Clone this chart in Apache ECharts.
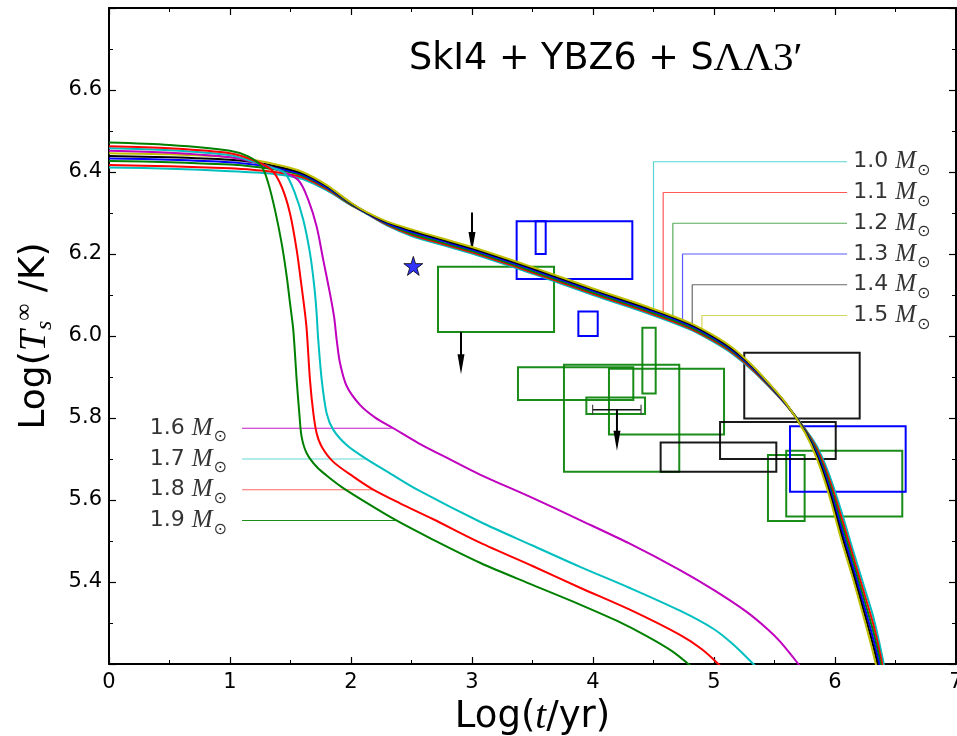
<!DOCTYPE html>
<html>
<head>
<meta charset="utf-8">
<script src="https://cdn.jsdelivr.net/npm/echarts@6/dist/echarts.min.js"></script>
<style>html,body{margin:0;padding:0;background:#fff;overflow:hidden}#c{position:absolute;left:0;top:0;width:957px;height:736px}</style>
</head>
<body>
<div id="c"></div>
<script>
// ---------- data ----------
const xTicks = [0, 1, 2, 3, 4, 5, 6, 7];
const yTicks = [5.4, 5.6, 5.8, 6.0, 6.2, 6.4, 6.6];

// common x grid for the 1.0 - 1.5 Msun curves (Log t/yr)
const bundleX = [0, 0.5, 1.0, 1.2, 1.4, 1.6, 1.8, 2.0, 2.13, 2.3, 2.5, 2.8, 3.0, 3.5, 4.0, 4.5, 4.8, 5.0, 5.15, 5.3, 5.45, 5.6, 5.75, 5.85, 5.95, 6.05, 6.15, 6.25, 6.32, 6.38, 6.45];
const m10 = [6.411, 6.408, 6.402, 6.399, 6.394, 6.383, 6.355, 6.319, 6.298, 6.269, 6.244, 6.218, 6.201, 6.152, 6.100, 6.050, 6.016, 5.985, 5.957, 5.921, 5.878, 5.830, 5.775, 5.731, 5.663, 5.575, 5.476, 5.380, 5.311, 5.233, 5.13];
const m11 = [6.417, 6.414, 6.409, 6.405, 6.399, 6.387, 6.358, 6.320, 6.299, 6.271, 6.247, 6.221, 6.204, 6.155, 6.103, 6.053, 6.019, 5.988, 5.960, 5.923, 5.879, 5.831, 5.773, 5.725, 5.653, 5.561, 5.462, 5.364, 5.293, 5.215, 5.11];
const m12 = [6.427, 6.424, 6.418, 6.413, 6.405, 6.391, 6.361, 6.321, 6.300, 6.273, 6.250, 6.224, 6.207, 6.158, 6.106, 6.056, 6.022, 5.991, 5.963, 5.926, 5.881, 5.832, 5.771, 5.719, 5.643, 5.547, 5.448, 5.348, 5.275, 5.197, 5.09];
const m13 = [6.433, 6.430, 6.424, 6.418, 6.409, 6.394, 6.363, 6.323, 6.300, 6.275, 6.254, 6.228, 6.211, 6.162, 6.110, 6.060, 6.026, 5.995, 5.966, 5.928, 5.883, 5.832, 5.769, 5.713, 5.633, 5.533, 5.434, 5.332, 5.257, 5.179, 5.07];
const m14 = [6.439, 6.436, 6.430, 6.424, 6.413, 6.397, 6.366, 6.324, 6.301, 6.277, 6.257, 6.231, 6.214, 6.165, 6.113, 6.063, 6.029, 5.998, 5.969, 5.931, 5.885, 5.833, 5.767, 5.707, 5.623, 5.519, 5.420, 5.316, 5.239, 5.161, 5.05];
const m15 = [6.446, 6.443, 6.436, 6.429, 6.417, 6.400, 6.368, 6.325, 6.302, 6.279, 6.260, 6.234, 6.217, 6.168, 6.116, 6.066, 6.032, 6.001, 5.972, 5.933, 5.886, 5.834, 5.765, 5.701, 5.613, 5.505, 5.406, 5.300, 5.221, 5.143, 5.03];

// heavier stars: [log t, log T]
const m16 = [[0, 6.452], [0.5, 6.447], [1.0, 6.436], [1.2, 6.424], [1.4, 6.405], [1.565, 6.38], [1.647, 6.332], [1.716, 6.267], [1.771, 6.185], [1.826, 6.104], [1.86, 6.047], [1.882, 5.99], [1.909, 5.934], [1.964, 5.878], [2.074, 5.832], [2.2, 5.801], [2.35, 5.775], [2.556, 5.739], [2.818, 5.699], [3.066, 5.662], [3.5, 5.605], [3.893, 5.551], [4.3, 5.494], [4.719, 5.429], [5.0, 5.38], [5.27, 5.327], [5.45, 5.283], [5.545, 5.255], [5.697, 5.2], [5.75, 5.178]];
const m17 = [[0, 6.458], [0.5, 6.453], [1.0, 6.441], [1.2, 6.425], [1.35, 6.41], [1.455, 6.397], [1.537, 6.348], [1.606, 6.283], [1.661, 6.202], [1.697, 6.12], [1.716, 6.055], [1.727, 6.0], [1.758, 5.893], [1.799, 5.811], [1.854, 5.771], [1.964, 5.734], [2.116, 5.702], [2.322, 5.665], [2.556, 5.624], [3.066, 5.547], [3.5, 5.489], [3.893, 5.437], [4.3, 5.386], [4.719, 5.330], [4.994, 5.286], [5.15, 5.25], [5.325, 5.2], [5.45, 5.16]];
const m18 = [[0, 6.463], [0.5, 6.458], [1.0, 6.446], [1.2, 6.428], [1.344, 6.405], [1.427, 6.364], [1.496, 6.299], [1.551, 6.21], [1.592, 6.12], [1.62, 6.055], [1.634, 6.015], [1.661, 5.893], [1.689, 5.811], [1.716, 5.763], [1.758, 5.73], [1.854, 5.693], [2.019, 5.657], [2.18, 5.626], [2.405, 5.592], [2.68, 5.553], [3.066, 5.496], [3.5, 5.439], [3.893, 5.386], [4.3, 5.333], [4.719, 5.271], [4.9, 5.236], [5.036, 5.2], [5.15, 5.166]];
const m19 = [[0, 6.472], [0.5, 6.466], [1.0, 6.452], [1.15, 6.438], [1.262, 6.413], [1.317, 6.372], [1.372, 6.307], [1.427, 6.226], [1.469, 6.145], [1.496, 6.08], [1.523, 6.015], [1.551, 5.893], [1.573, 5.811], [1.592, 5.754], [1.634, 5.714], [1.716, 5.681], [1.826, 5.653], [1.936, 5.629], [2.13, 5.593], [2.364, 5.552], [2.68, 5.503], [3.066, 5.447], [3.5, 5.393], [3.893, 5.345], [4.2, 5.305], [4.444, 5.268], [4.65, 5.232], [4.788, 5.2], [4.9, 5.17]];

// mass labels
const massNames = ['1.0', '1.1', '1.2', '1.3', '1.4', '1.5', '1.6', '1.7', '1.8', '1.9'];
// upper labels: leader from curve at x up to label height
const upLeadX = [4.5, 4.58, 4.66, 4.74, 4.82, 4.9];
const upLeadYCurve = [6.052, 6.044, 6.037, 6.030, 6.022, 6.015];
const upLabelY = [6.425, 6.35, 6.275, 6.2, 6.125, 6.05];
const upLeadEndX = 6.1;
const upLabelX = 6.15;
// lower labels: horizontal leaders
const lowLeadStartX = 1.1;
const lowLeadEndX = [2.336, 2.116, 2.18, 2.364];
const lowLabelY = [5.775, 5.70, 5.625, 5.55];
const lowLabelX = 0.975;

// observational boxes: [x0, x1, y0, y1]
const greenBoxes = [
  [2.719, 3.678, 6.01, 6.169],
  [3.38, 4.333, 5.844, 5.924],
  [3.76, 4.713, 5.669, 5.93],
  [4.132, 5.083, 5.76, 5.92],
  [4.408, 4.518, 5.86, 6.02],
  [3.945, 4.43, 5.81, 5.85],
  [5.597, 6.556, 5.56, 5.72],
  [5.446, 5.749, 5.549, 5.71]
];
const blueBoxes = [
  [3.369, 4.325, 6.139, 6.28],
  [3.526, 3.609, 6.2, 6.28],
  [3.879, 4.039, 6.0, 6.06],
  [5.628, 6.584, 5.62, 5.78]
];
const blackBoxes = [
  [5.25, 6.204, 5.799, 5.959],
  [5.05, 6.006, 5.70, 5.79],
  [4.559, 5.515, 5.669, 5.74]
];
// upper-limit arrows: [x, yStart, yEnd]
const arrows = [[3.0, 6.301, 6.205], [2.909, 6.01, 5.907], [4.198, 5.82, 5.72]];
// horizontal error bar: [x0, x1, y]
const errBars = [[3.997, 4.397, 5.82]];
// star
const starPt = [[2.515, 6.171]];

// ---------- styles ----------
const C = {c: '#00BFBF', r: '#FF0000', g: '#008000', b: '#0000FF', k: '#000000', y: '#BFBF00', m: '#BF00BF'};
const bundleColors = [C.c, C.r, C.g, C.b, C.k, C.y];
const heavyColors = [C.m, C.c, C.r, C.g];
const SANS = 'DejaVu Sans';
const SERIF = 'Liberation Serif';

const massRich = {
  n: {fontFamily: SANS, fontSize: 22, color: '#000', verticalAlign: 'middle', lineHeight: 34},
  m: {fontFamily: SERIF, fontStyle: 'italic', fontSize: 25, color: '#000', verticalAlign: 'middle', lineHeight: 34},
  s: {fontFamily: 'DejaVu Sans', fontSize: 16, color: '#000', verticalAlign: 'bottom', lineHeight: 34, padding: [0, 0, 0, 1]}
};

function zip(xs, ys) { return xs.map((x, i) => [x, ys[i]]); }

const series = [];

function boxSeries(boxes, color, opacity) {
  return {
    type: 'custom', z: 1,
    data: boxes,
    renderItem: (params, api) => {
      const p0 = api.coord([api.value(0), api.value(3)]);
      const p1 = api.coord([api.value(1), api.value(2)]);
      return {type: 'rect', shape: {x: p0[0], y: p0[1], width: p1[0] - p0[0], height: p1[1] - p0[1]},
        style: {fill: 'none', stroke: color, lineWidth: 2, opacity: opacity}};
    }
  };
}
series.push(boxSeries(greenBoxes, C.g, 0.9));
series.push(boxSeries(blueBoxes, C.b, 1));
series.push(boxSeries(blackBoxes, C.k, 0.9));

// error bar
series.push({
  type: 'custom', z: 3, data: errBars,
  renderItem: (params, api) => {
    const a = api.coord([api.value(0), api.value(2)]);
    const b = api.coord([api.value(1), api.value(2)]);
    return {type: 'group', children: [
      {type: 'line', shape: {x1: a[0], y1: a[1], x2: b[0], y2: b[1]}, style: {stroke: '#111', lineWidth: 1.6}},
      {type: 'line', shape: {x1: a[0], y1: a[1] - 5, x2: a[0], y2: a[1] + 5}, style: {stroke: '#444', lineWidth: 1.2}},
      {type: 'line', shape: {x1: b[0], y1: b[1] - 5, x2: b[0], y2: b[1] + 5}, style: {stroke: '#444', lineWidth: 1.2}}
    ]};
  }
});
// arrows
series.push({
  type: 'custom', z: 3, data: arrows,
  renderItem: (params, api) => {
    const s = api.coord([api.value(0), api.value(1)]);
    const e = api.coord([api.value(0), api.value(2)]);
    const headL = 20, headW = 3.5;
    return {type: 'group', children: [
      {type: 'line', shape: {x1: s[0], y1: s[1], x2: e[0], y2: e[1] - headL + 2}, style: {stroke: '#000', lineWidth: 2}},
      {type: 'polygon', shape: {points: [[e[0] - headW, e[1] - headL], [e[0] + headW, e[1] - headL], [e[0], e[1]]]}, style: {fill: '#000'}}
    ]};
  }
});

// leader lines, upper
for (let i = 0; i < 6; i++) {
  series.push({
    type: 'line', z: 2, symbol: 'none', silent: true,
    data: [[upLeadX[i], upLeadYCurve[i]], [upLeadX[i], upLabelY[i]], [upLeadEndX, upLabelY[i]]],
    lineStyle: {color: bundleColors[i], width: 1.2, opacity: i === 4 ? 0.6 : 0.65}
  });
  series.push({
    type: 'scatter', z: 5, symbolSize: 0, silent: true,
    data: [[upLabelX, upLabelY[i]]],
    label: {show: true, position: 'right', distance: 0,
      formatter: '{n|' + massNames[i] + ' }{m|M}{s|⊙}', rich: massRich}
  });
}
// leader lines, lower
for (let i = 0; i < 4; i++) {
  series.push({
    type: 'line', z: 2, symbol: 'none', silent: true,
    data: [[lowLeadStartX, lowLabelY[i]], [lowLeadEndX[i], lowLabelY[i]]],
    lineStyle: {color: heavyColors[i], width: 1.2, opacity: (i === 0 || i === 3) ? 0.9 : 0.6}
  });
  series.push({
    type: 'scatter', z: 5, symbolSize: 0, silent: true,
    data: [[lowLabelX, lowLabelY[i]]],
    label: {show: true, position: 'left', distance: 0,
      formatter: '{n|' + massNames[6 + i] + ' }{m|M}{s|⊙}', rich: massRich}
  });
}

// cooling curves
const bundle = [m10, m11, m12, m13, m14, m15];
bundle.forEach((ys, i) => {
  series.push({type: 'line', z: 4, symbol: 'none', smooth: 0.3, silent: true,
    data: zip(bundleX, ys), lineStyle: {color: bundleColors[i], width: 2}});
});
[m16, m17, m18, m19].forEach((d, i) => {
  series.push({type: 'line', z: 4, symbol: 'none', smooth: 0.3, silent: true,
    data: d, lineStyle: {color: heavyColors[i], width: 2}});
});

// star
series.push({
  type: 'scatter', z: 6, data: starPt,
  symbol: 'path://M50,0 L61.2,34.5 L97.6,34.5 L68.2,55.9 L79.4,90.5 L50,69.1 L20.6,90.5 L31.8,55.9 L2.4,34.5 L38.8,34.5 Z',
  symbolSize: 19,
  itemStyle: {color: '#0000FF', borderColor: '#000', borderWidth: 1}
});

const tickCommon = {
  axisLine: {show: true, onZero: false, lineStyle: {color: '#000', width: 2}},
  axisTick: {show: true, inside: true, length: 7, lineStyle: {color: '#000', width: 1.2}},
  minorTick: {show: true, splitNumber: 2, length: 4, lineStyle: {color: '#000', width: 1}},
  splitLine: {show: false},
  minorSplitLine: {show: false}
};

const option = {
  animation: false,
  backgroundColor: '#fff',
  title: {
    text: '{a|SkI4 + YBZ6 + S}{b|ΛΛ3′}',
    left: 404, top: 34,
    textStyle: {fontWeight: 'normal', rich: {
      a: {fontFamily: SANS, fontSize: 36.5, fontWeight: 'normal', color: '#000'},
      b: {fontFamily: SERIF, fontSize: 41, fontWeight: 'normal', color: '#000'}
    }}
  },
  grid: {left: 109, right: 1, top: 8, bottom: 72, containLabel: false, outerBoundsMode: 'none'},
  xAxis: [
    Object.assign({}, tickCommon, {
      type: 'value', position: 'bottom', min: xTicks[0], max: xTicks[xTicks.length - 1], interval: 1,
      axisLabel: {show: true, color: '#000', fontFamily: SANS, fontSize: 21, margin: 8, showMaxLabel: true},
      name: '{a|Log(}{t|t}{a|/yr)}', nameLocation: 'middle', nameGap: 29,
      nameTextStyle: {rich: {
        a: {fontFamily: SANS, fontSize: 37, color: '#000'},
        t: {fontFamily: SERIF, fontStyle: 'italic', fontSize: 39, color: '#000'}
      }}
    }),
    Object.assign({}, tickCommon, {
      type: 'value', position: 'top', min: xTicks[0], max: xTicks[xTicks.length - 1], interval: 1,
      axisLabel: {show: false}
    })
  ],
  yAxis: [
    Object.assign({}, tickCommon, {
      type: 'value', position: 'left', min: 5.2, max: 6.8, interval: 0.2,
      axisLabel: {show: true, color: '#000', fontFamily: SANS, fontSize: 21, margin: 7,
        formatter: v => (yTicks.some(t => Math.abs(t - v) < 1e-6) ? v.toFixed(1) : '')},
      name: '{a|Log(}{t|T}{s|s}{u|∞}{a| /K)}', nameLocation: 'middle', nameGap: 52, nameRotate: 90,
      nameTextStyle: {rich: {
        a: {fontFamily: SANS, fontSize: 36, color: '#000', verticalAlign: 'middle', lineHeight: 44},
        t: {fontFamily: SERIF, fontStyle: 'italic', fontSize: 38, color: '#000', verticalAlign: 'middle', lineHeight: 44},
        s: {fontFamily: SERIF, fontStyle: 'italic', fontSize: 24, color: '#000', verticalAlign: 'bottom', lineHeight: 44},
        u: {fontFamily: SERIF, fontSize: 24, color: '#000', verticalAlign: 'top', lineHeight: 44}
      }}
    }),
    Object.assign({}, tickCommon, {
      type: 'value', position: 'right', min: 5.2, max: 6.8, interval: 0.2,
      axisLabel: {show: false}
    })
  ],
  series: series
};

const chart = echarts.init(document.getElementById('c'), null, {renderer: 'canvas', width: 957, height: 736});
chart.setOption(option);
</script>
</body>
</html>
